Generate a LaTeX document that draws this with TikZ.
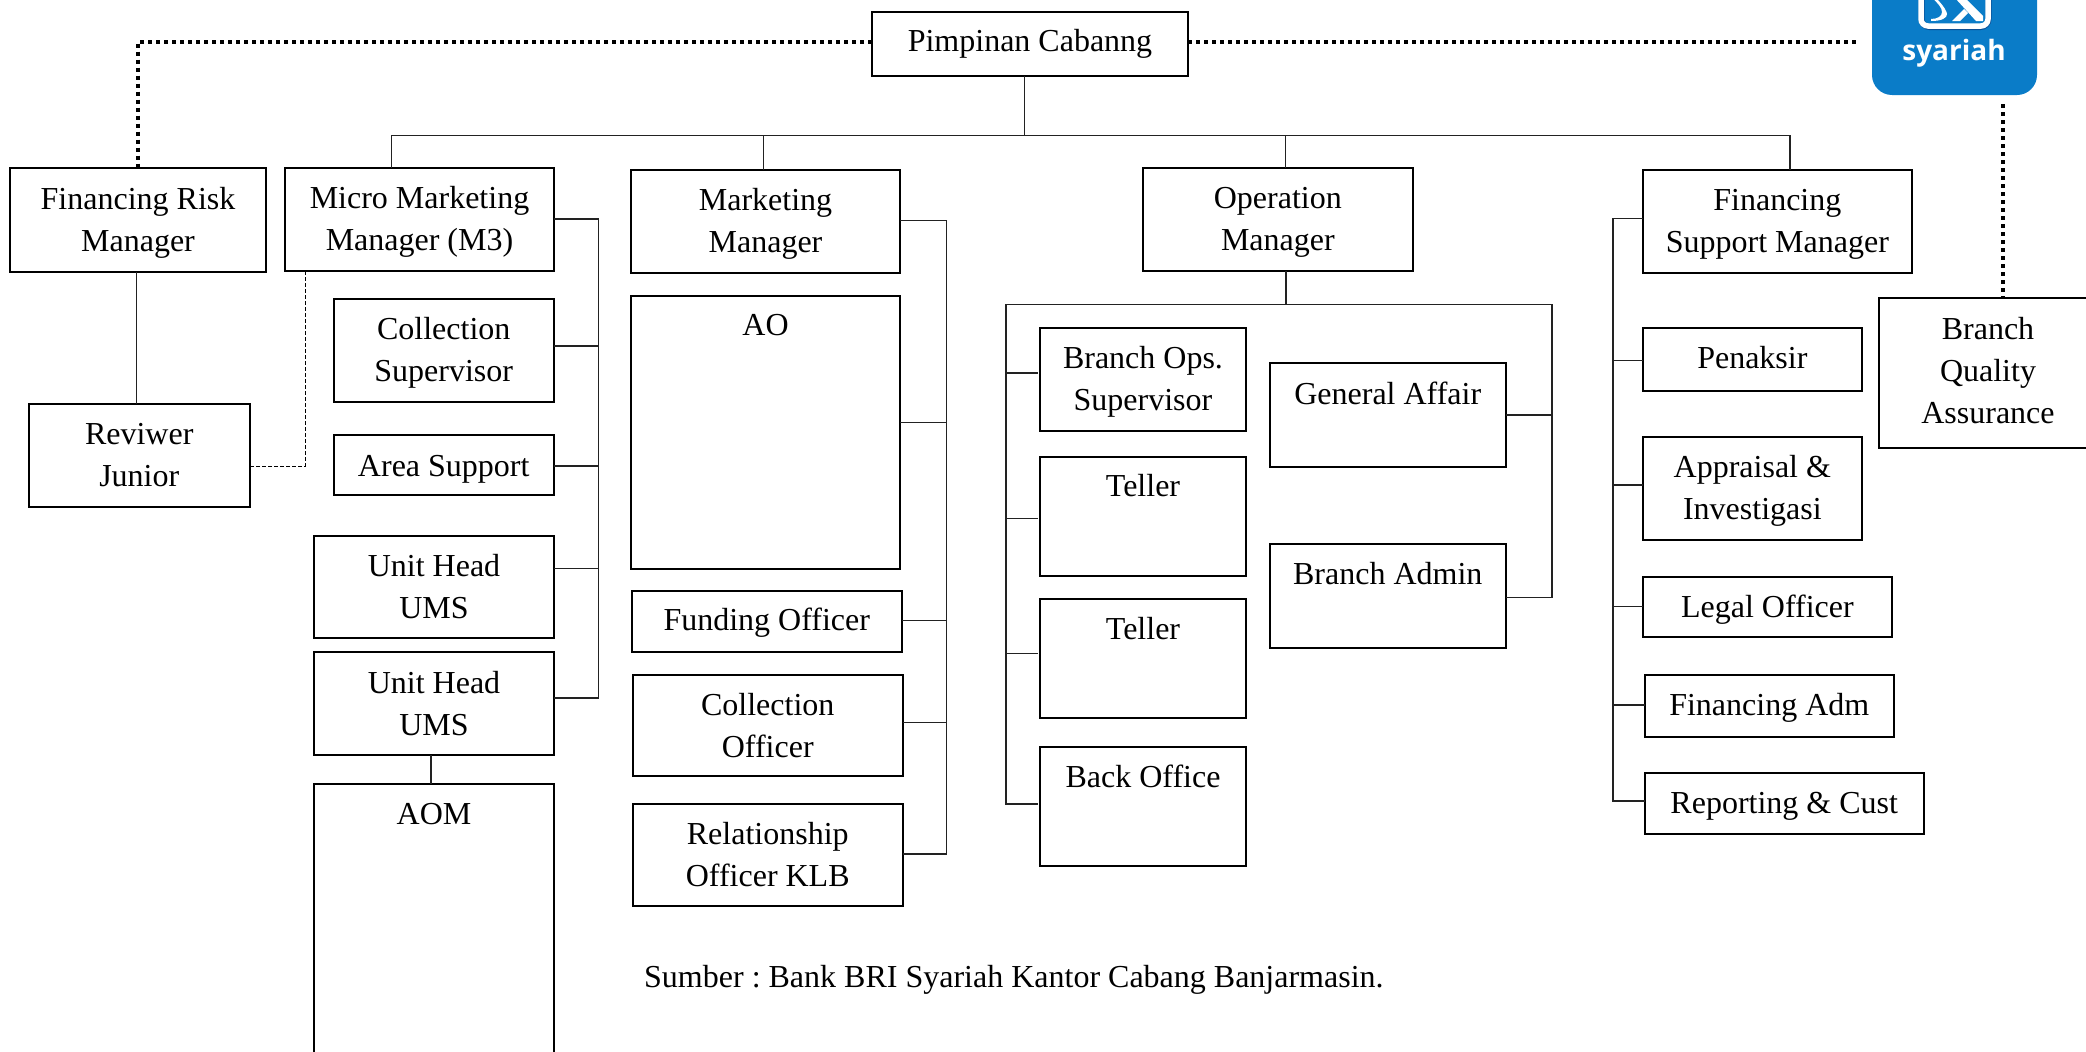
\documentclass[tikz,border=0pt]{standalone}
\usepackage{fontspec}
\setmainfont{Liberation Serif}
\newfontfamily\logofont{Open Sans}
\usetikzlibrary{calc}
\definecolor{logoblue}{HTML}{0A7CC8}
\definecolor{logodark}{HTML}{0A4F96}
\definecolor{linegray}{HTML}{222222}
\tikzset{
  orgbox/.style={draw=black,line width=2pt,inner sep=0pt,outer sep=0pt,fill=none},
  orgtext/.style={inner sep=0pt,outer sep=0pt,align=center,anchor=center},
  conn/.style={draw=linegray,line width=1.3pt},
  dash line/.style={draw=black,line width=1pt,dash pattern=on 4pt off 2pt},
  dot heavy/.style={draw=black,line width=4pt,dash pattern=on 4pt off 4pt},
}
% [text shift down], name, x0, y0, x1, y1, text : text centred in the box
\newcommand{\boxc}[7][0]{%
  \pgfmathsetmacro{\bw}{#5-#3}\pgfmathsetmacro{\bh}{#6-#4}%
  \node[orgbox,minimum width=\bw pt,minimum height=\bh pt] (#2) at ({(#3+#5)/2},{-(#4+#6)/2}) {};
  \node[orgtext] (#2t) at ($(#2.center)+(0,-#1)$) {#7};}
% [offset of the text from the top], name, x0, y0, x1, y1, text : text at the top of the box
\newcommand{\boxt}[7][30]{%
  \pgfmathsetmacro{\bw}{#5-#3}\pgfmathsetmacro{\bh}{#6-#4}%
  \node[orgbox,minimum width=\bw pt,minimum height=\bh pt] (#2) at ({(#3+#5)/2},{-(#4+#6)/2}) {};
  \node[orgtext] (#2t) at ($(#2.north)+(0,-#1)$) {#7};}
\begin{document}
\frenchspacing
\begin{tikzpicture}[x=1pt,y=1pt,font=\fontsize{32}{42}\selectfont]
\path[use as bounding box,clip] (0,0) rectangle (2086,-1052);
\fill[white] (0,0) rectangle (2086,-1052);

% logo
\fill[logoblue,rounded corners=20pt] (1872,30) rectangle (2037,-95);
\draw[logodark,line width=6pt,rounded corners=8pt] (1921.5,10) -- (1921.5,-27) -- (1988.5,-27) -- (1988.5,10);
\draw[white,line width=5.5pt,rounded corners=7pt] (1921,10) -- (1921,-26) -- (1988,-26) -- (1988,10);
\fill[white] (1936,2) .. controls (1944,-6) and (1947,-12) .. (1947,-14) .. controls (1947,-18) and (1942,-21) .. (1931,-21) -- (1931,-19) .. controls (1938,-19) and (1942,-16) .. (1942,-12) .. controls (1942,-8) and (1938,-3) .. (1932,2) -- cycle;
\fill[white] (1955,2) -- (1965,2) -- (1983,-16) -- (1983,-21) -- (1976,-21) -- cycle;
\fill[white] (1952,-21) -- (1964,-9) -- (1968,-13) -- (1960,-21) -- cycle;
\node[text=white,inner sep=0pt,font=\logofont\bfseries\fontsize{28}{28}\selectfont] (logo) at (1954,-53) {syariah};
\coordinate (logoleft) at (1858,-41.7);
\coordinate (logobot) at (2002.7,-104);

% boxes
\boxc{pc}{872}{12}{1188}{76}{Pimpinan Cabanng}
\boxc[2.5]{frm}{10}{168}{266}{272}{Financing Risk\\Manager}
\boxc[2.5]{mmm}{285}{168}{554}{271}{Micro Marketing\\Manager (M3)}
\boxc[2]{mm}{631}{170}{900}{273}{Marketing\\Manager}
\boxc[2]{cs}{333.5}{299}{554}{402}{Collection\\Supervisor}
\boxc[4]{as}{333.5}{435}{554}{495}{Area Support}
\boxc{rj}{29}{404}{249.5}{507}{Reviwer\\Junior}
\boxt{ao}{631}{295.5}{900}{568.5}{AO}
\boxc{uh}{314}{536}{554}{638}{Unit Head\\UMS}
\boxc{uhb}{314}{652}{554}{754.5}{Unit Head\\UMS}
\boxt{aom}{314}{784}{554}{1100}{AOM}
\boxc[1]{fo}{631.5}{591}{902}{652}{Funding Officer}
\boxc{co}{633}{675}{902.5}{776}{Collection\\Officer}
\boxc{ro}{633}{804}{902.5}{905.5}{Relationship\\Officer KLB}
\boxc[2.5]{om}{1143}{168}{1412.7}{271}{Operation\\Manager}
\boxc[2.5]{fsm}{1642.7}{170}{1912}{273}{Financing\\Support Manager}
\boxc[2.5]{bos}{1040}{328}{1246}{431}{Branch Ops.\\Supervisor}
\boxt[29]{ta}{1040}{457}{1246}{576}{Teller}
\boxt{tb}{1040}{598.5}{1246}{718}{Teller}
\boxt[29]{bo}{1040}{747}{1246}{866}{Back Office}
\boxt[30]{ga}{1269.5}{363}{1506}{467}{General Affair}
\boxt{ba}{1269.5}{544}{1506}{648}{Branch Admin}
\boxc[-1.5]{pk}{1642.7}{328}{1862}{391}{Penaksir}
\boxc[2.5]{ai}{1642.7}{437}{1862}{540}{Appraisal \&\\Investigasi}
\boxc[2.5]{lo}{1642.7}{576.5}{1892}{637}{Legal Officer}
\boxc[2.5]{fa}{1644.5}{674.5}{1894}{737}{Financing Adm}
\boxc[2.5]{rc}{1644.5}{773}{1924}{834}{Reporting \& Cust}
\boxc[-2.5]{bqa}{1879}{298}{2097}{448}{Branch\\Quality\\Assurance}

\node[anchor=west,inner sep=0pt] (src) at (644,-980) {Sumber : Bank BRI Syariah Kantor Cabang Banjarmasin.};

% dotted links
\draw[dot heavy] (pc.west |- 0,-41.7) -| (frm.north -| 138,0);
\draw[dot heavy] (pc.east |- 0,-41.7) -- (logoleft);
\draw[dot heavy] (logobot) -- (bqa.north -| logobot);

% top bus
\coordinate (busy) at (0,-135.6);
\draw[conn] (pc.south -| 1024.5,0) -- (1024.5,0 |- busy);
\draw[conn] (mmm.north -| 391.6,0) |- (1790,0 |- busy) -- (fsm.north -| 1790,0);
\draw[conn] (mm.north -| 763.4,0) -- (763.4,0 |- busy);
\draw[conn] (om.north -| 1285.3,0) -- (1285.3,0 |- busy);

% reviewer links
\draw[conn] (frm.south -| 136.5,0) -- (rj.north -| 136.5,0);
\draw[dash line] (mmm.south -| 305,0) |- (rj.east |- 0,-466);

% micro marketing bus
\draw[conn] (mmm.east |- 0,-219) -| (598.2,-698) -- (uhb.east |- 0,-698);
\draw[conn] (cs.east |- 0,-346) -- (598.2,-346);
\draw[conn] (as.east |- 0,-466) -- (598.2,-466);
\draw[conn] (uh.east |- 0,-568.5) -- (598.2,-568.5);
\draw[conn] (uhb.south -| 431,0) -- (aom.north -| 431,0);

% marketing bus
\draw[conn] (mm.east |- 0,-220.4) -| (946.4,-854) -- (ro.east |- 0,-854);
\draw[conn] (ao.east |- 0,-422.6) -- (946.4,-422.6);
\draw[conn] (fo.east |- 0,-620.8) -- (946.4,-620.8);
\draw[conn] (co.east |- 0,-722.6) -- (946.4,-722.6);

% operation bus
\draw[conn] (om.south -| 1286,0) -- (1286,-304.7);
\draw[conn] (1037.5,-804) -- (1006,-804) -- (1006,-304.7) -- (1552,-304.7) -- (1552,-597.3) -- (ba.east |- 0,-597.3);
\draw[conn] (1006,-373) -- (1037.5,-373);
\draw[conn] (1006,-518.7) -- (1037.5,-518.7);
\draw[conn] (1006,-653.7) -- (1037.5,-653.7);
\draw[conn] (ga.east |- 0,-415) -- (1552,-415);

% financing support bus
\draw[conn] (fsm.west |- 0,-218.7) -| (1613,-801) -- (rc.west |- 0,-801);
\draw[conn] (pk.west |- 0,-360.7) -- (1613,-360.7);
\draw[conn] (ai.west |- 0,-485) -- (1613,-485);
\draw[conn] (lo.west |- 0,-606.7) -- (1613,-606.7);
\draw[conn] (fa.west |- 0,-705) -- (1613,-705);
\end{tikzpicture}
\end{document}
